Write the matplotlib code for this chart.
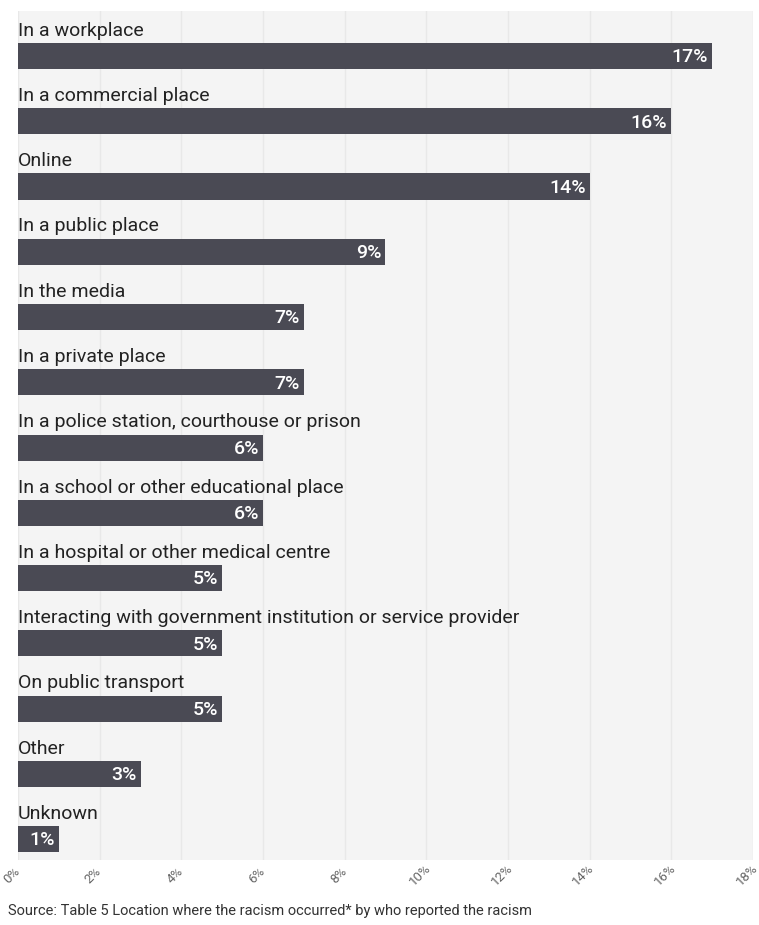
import matplotlib
matplotlib.use("Agg")
import matplotlib.pyplot as plt

categories = [
    "In a workplace",
    "In a commercial place",
    "Online",
    "In a public place",
    "In the media",
    "In a private place",
    "In a police station, courthouse or prison",
    "In a school or other educational place",
    "In a hospital or other medical centre",
    "Interacting with government institution or service provider",
    "On public transport",
    "Other",
    "Unknown",
]
values = [17, 16, 14, 9, 7, 7, 6, 6, 5, 5, 5, 3, 1]
ticks = [0, 2, 4, 6, 8, 10, 12, 14, 16, 18]

plt.rcParams["font.family"] = ["Roboto", "DejaVu Sans"]

fig = plt.figure(figsize=(7.59, 9.25), dpi=100)
ax = fig.add_axes([18 / 759, 65 / 925, 735 / 759, 849 / 925])
ax.set_facecolor("#f4f4f4")

bar_h = 0.40
ys = list(range(len(categories)))
ax.barh(ys, values, height=bar_h, color="#4a4a54", zorder=3)

for y, cat, v in zip(ys, categories, values):
    ax.text(0, y - bar_h / 2 - 0.05, cat, ha="left", va="bottom",
            fontsize=14, color="#222222", zorder=4)
    ax.text(v - 0.1, y + 0.02, f"{v}%", ha="right", va="center",
            fontsize=14, fontweight="medium", color="white", zorder=4)

ax.set_xlim(0, 18)
ax.set_ylim(len(categories) - 1 + 0.32, -0.69)
ax.set_xticks(ticks)
ax.set_xticklabels([])
ax.tick_params(axis="x", length=0)
ax.set_yticks([])
ax.grid(axis="x", color="#e8e8e8", linewidth=1, zorder=0)
for s in ax.spines.values():
    s.set_visible(False)

# rotated percentage labels under each gridline
for t in ticks:
    ax.annotate(f"{t}%", xy=(t, 0), xycoords=("data", "axes fraction"),
                xytext=(-4.5, -11), textcoords="offset points",
                rotation=45, rotation_mode="anchor", ha="center", va="center",
                fontsize=9.5, color="#666666", annotation_clip=False)

fig.text(8 / 759, 1 - 911 / 925,
         "Source: Table 5 Location where the racism occurred* by who reported the racism",
         ha="left", va="center", fontsize=10.5, color="#333333")

fig.savefig("out.png", dpi=100)
